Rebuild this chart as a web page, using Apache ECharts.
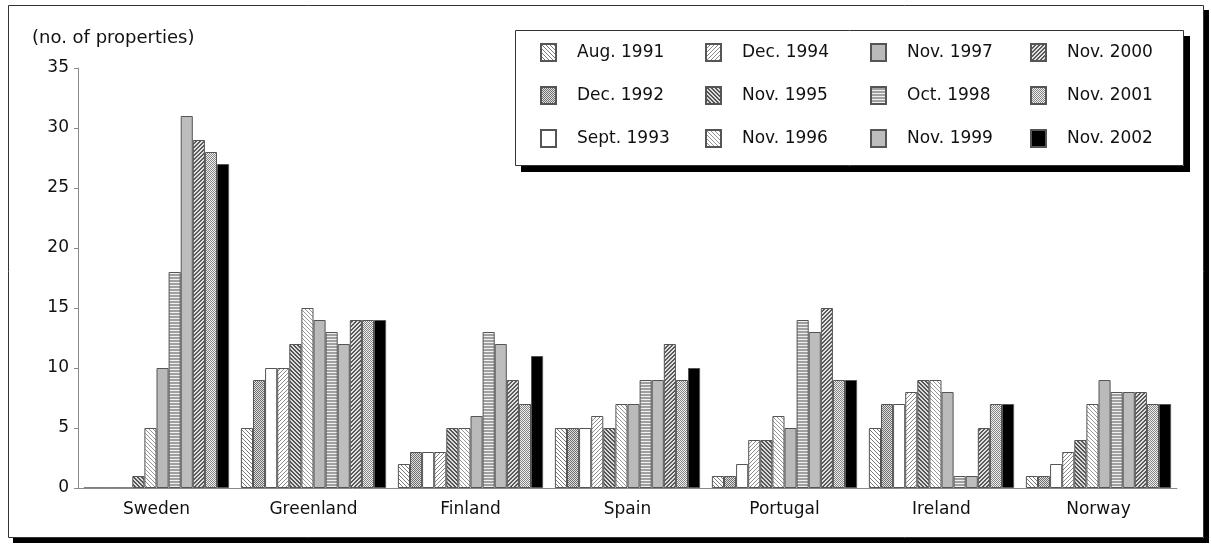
<!DOCTYPE html>
<html>
<head>
<meta charset="utf-8">
<script src="https://cdn.jsdelivr.net/npm/echarts@6/dist/echarts.min.js"></script>
<style>
html,body{margin:0;padding:0;background:#fff;}
#chart{width:1211px;height:544px;}
</style>
</head>
<body>
<div id="chart"></div>
<script>
// ---- data ----
const categories = ['Sweden','Greenland','Finland','Spain','Portugal','Ireland','Norway'];
const seriesNames = ['Aug. 1991','Dec. 1992','Sept. 1993','Dec. 1994','Nov. 1995','Nov. 1996',
                     'Nov. 1997','Oct. 1998','Nov. 1999','Nov. 2000','Nov. 2001','Nov. 2002'];
const aug1991  = [0, 5, 2, 5, 1, 5, 1];
const dec1992  = [0, 9, 3, 5, 1, 7, 1];
const sept1993 = [0, 10, 3, 5, 2, 7, 2];
const dec1994  = [0, 10, 3, 6, 4, 8, 3];
const nov1995  = [1, 12, 5, 5, 4, 9, 4];
const nov1996  = [5, 15, 5, 7, 6, 9, 7];
const nov1997  = [10, 14, 6, 7, 5, 8, 9];
const oct1998  = [18, 13, 13, 9, 14, 1, 8];
const nov1999  = [31, 12, 12, 9, 13, 1, 8];
const nov2000  = [29, 14, 9, 12, 15, 5, 8];
const nov2001  = [28, 14, 7, 9, 9, 7, 7];
const nov2002  = [27, 14, 11, 10, 9, 7, 7];
const seriesValues = [aug1991, dec1992, sept1993, dec1994, nov1995, nov1996,
                      nov1997, oct1998, nov1999, nov2000, nov2001, nov2002];
const yTicks = [0, 5, 10, 15, 20, 25, 30, 35];

// ---- patterns ----
function hex(c){ return [parseInt(c.substr(1,2),16),parseInt(c.substr(3,2),16),parseInt(c.substr(5,2),16)]; }
function makePattern(size, fn){
  const cv = document.createElement('canvas');
  cv.width = size; cv.height = size;
  const ctx = cv.getContext('2d');
  const img = ctx.createImageData(size, size);
  for (let y = 0; y < size; y++) for (let x = 0; x < size; x++) {
    const c = hex(fn(x, y)); const k = (y*size + x)*4;
    img.data[k]=c[0]; img.data[k+1]=c[1]; img.data[k+2]=c[2]; img.data[k+3]=255;
  }
  ctx.putImageData(img, 0, 0);
  return { image: cv, repeat: 'repeat' };
}
const mod = (a, n) => ((a % n) + n) % n;
const backDiag = (fg, bg, p, w) => makePattern(p*2, (x,y) => mod(x - y, p) < w ? fg : bg);
const fwdDiag  = (fg, bg, p, w) => makePattern(p*2, (x,y) => mod(x + y, p) < w ? fg : bg);
const checker  = (fg, bg) => makePattern(4, (x,y) => ((x + y) % 2 === 0) ? fg : bg);
const hLines   = (fg, bg) => makePattern(6, (x,y) => (y % 3 === 0) ? bg : fg);
const solid    = (c) => c;

const fills = [
  backDiag('#7a7a7a', '#ffffff', 4, 1),   // Aug. 1991
  checker('#6e6e6e', '#e0e0e0'),          // Dec. 1992
  solid('#ffffff'),                       // Sept. 1993
  fwdDiag('#8c8c8c', '#ffffff', 4, 1),    // Dec. 1994
  backDiag('#555555', '#dcdcdc', 4, 2),   // Nov. 1995
  backDiag('#969696', '#ffffff', 4, 1),   // Nov. 1996
  solid('#bababa'),                       // Nov. 1997
  hLines('#a0a0a0', '#f0f0f0'),           // Oct. 1998
  solid('#bdbdbd'),                       // Nov. 1999
  fwdDiag('#5a5a5a', '#e2e2e2', 4, 2),    // Nov. 2000
  checker('#858585', '#eeeeee'),          // Nov. 2001
  solid('#000000')                        // Nov. 2002
];

const FONT = 'DejaVu Sans';
const TXT = '#111111';

const series = seriesNames.map((name, i) => ({
  name: name,
  type: 'bar',
  data: seriesValues[i],
  barGap: '0%',
  barCategoryGap: '7.5%',
  itemStyle: { color: fills[i], borderColor: '#555', borderWidth: 1 },
  emphasis: { disabled: true },
  z: 3
}));

const colX = [540, 705, 870, 1030];
const rowY = [52, 95, 138];
const legends = seriesNames.map((name, i) => ({
  data: [name],
  left: colX[Math.floor(i / 3)],
  top: rowY[i % 3] - 9,
  itemWidth: 15,
  itemHeight: 17,
  icon: 'rect',
  selectedMode: false,
  padding: 0,
  z: 10,
  textStyle: { fontFamily: FONT, fontSize: 17, color: TXT, padding: [0, 0, 0, 16] }
}));

const option = {
  animation: false,
  backgroundColor: '#ffffff',
  title: {
    text: '(no. of properties)',
    left: 32, top: 29, padding: 0,
    textStyle: { fontFamily: FONT, fontSize: 18, fontWeight: 'normal', color: TXT }
  },
  legend: legends,
  grid: { left: 78, right: 34, top: 68, bottom: 56, containLabel: false },
  xAxis: {
    type: 'category',
    data: categories,
    axisLine: { lineStyle: { color: '#8a8a8a', width: 1 } },
    axisTick: { show: false },
    axisLabel: { fontFamily: FONT, fontSize: 17, color: TXT, margin: 13 },
    z: 5
  },
  yAxis: {
    type: 'value',
    min: yTicks[0], max: yTicks[yTicks.length - 1], interval: 5,
    axisLine: { show: true, lineStyle: { color: '#8a8a8a', width: 1 } },
    axisTick: { show: true, length: 4, lineStyle: { color: '#8a8a8a' } },
    axisLabel: { fontFamily: FONT, fontSize: 17, color: TXT, margin: 9 },
    splitLine: { show: false }
  },
  graphic: [
    // outer frame
    { type: 'rect', z: 0, silent: true, shape: { x: 8.5, y: 5.5, width: 1195, height: 532 },
      style: { fill: 'none', stroke: '#333', lineWidth: 1 } },
    { type: 'rect', z: 0, silent: true, shape: { x: 13, y: 538, width: 1196, height: 5 }, style: { fill: '#000' } },
    { type: 'rect', z: 0, silent: true, shape: { x: 1204, y: 10, width: 5, height: 533 }, style: { fill: '#000' } },
    // legend box
    { type: 'rect', z: 0, silent: true, shape: { x: 515.5, y: 30.5, width: 668, height: 135 },
      style: { fill: 'none', stroke: '#333', lineWidth: 1 } },
    { type: 'rect', z: 0, silent: true, shape: { x: 521, y: 166, width: 669, height: 6 }, style: { fill: '#000' } },
    { type: 'rect', z: 0, silent: true, shape: { x: 1184, y: 36, width: 6, height: 136 }, style: { fill: '#000' } }
  ],
  series: series
};

const chart = echarts.init(document.getElementById('chart'), null, { renderer: 'canvas' });
chart.setOption(option);
</script>
</body>
</html>
